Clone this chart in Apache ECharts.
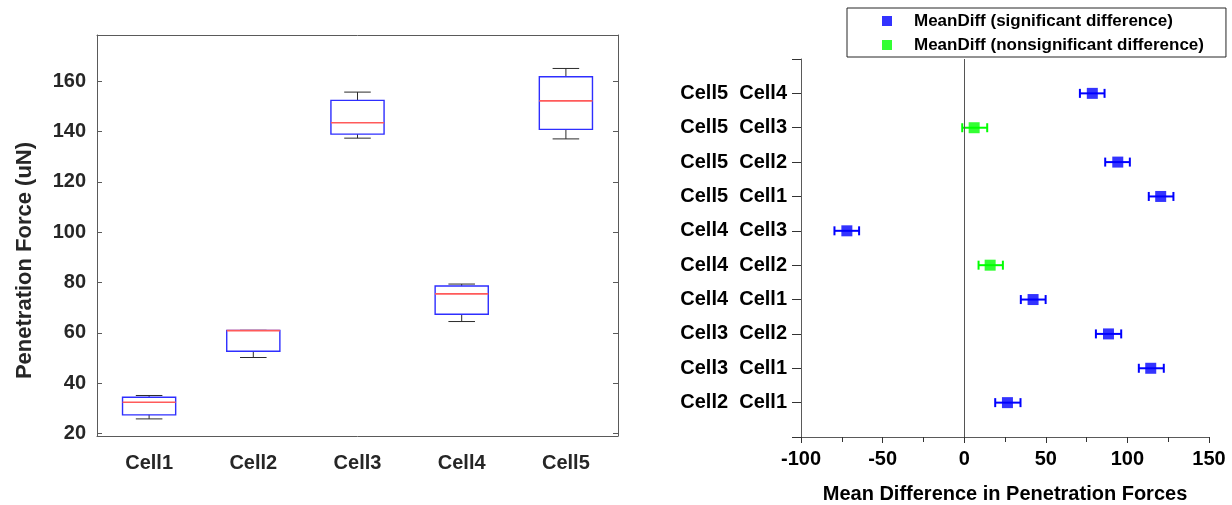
<!DOCTYPE html>
<html><head><meta charset="utf-8">
<script src="https://cdn.jsdelivr.net/npm/echarts@6/dist/echarts.min.js"></script>
<style>html,body{margin:0;padding:0;background:#fff}#c{width:1232px;height:505px}</style>
</head><body><div id="c"></div>
<script>
// ---- Left chart: box plots ----
const cellNames = ['Cell1', 'Cell2', 'Cell3', 'Cell4', 'Cell5'];
const boxMin    = [25.8, 50.2, 137.4, 64.5, 137.1];
const boxQ1     = [27.4, 52.7, 139.0, 67.4, 140.9];
const boxMedian = [32.4, 60.9, 143.5, 75.5, 152.2];
const boxQ3     = [34.4, 61.0, 152.4, 78.6, 161.8];
const boxMax    = [35.1, 61.0, 155.7, 79.4, 165.1];
const leftYTicks = [20, 40, 60, 80, 100, 120, 140, 160];
const leftYName = 'Penetration Force (uN)';

// ---- Right chart: multiple comparison ----
const pairLabels = ['Cell2  Cell1', 'Cell3  Cell1', 'Cell3  Cell2', 'Cell4  Cell1', 'Cell4  Cell2',
                    'Cell4  Cell3', 'Cell5  Cell1', 'Cell5  Cell2', 'Cell5  Cell3', 'Cell5  Cell4'];
const meanDiff    = [26.5, 114.3, 88.4, 42.2, 15.9, -71.9, 120.4, 94.1, 6.1, 78.5];
const ciLow       = [19.0, 107.0, 80.7, 34.7, 8.8, -79.5, 113.1, 86.4, -1.2, 70.9];
const ciHigh      = [34.5, 122.3, 96.2, 49.9, 23.7, -64.4, 128.2, 101.5, 14.1, 86.0];
const significant = [1, 1, 1, 1, 0, 1, 1, 1, 0, 1];
const legendNames = ['MeanDiff (significant difference)', 'MeanDiff (nonsignificant difference)'];
const rightXName = 'Mean Difference in Penetration Forces';

const FONT = "'Liberation Sans', Arial, Helvetica, sans-serif";
const AX = '#5a5a5a';
const BLUE = '#0000ff', GREEN = '#00ff00';

const boxData = cellNames.map((c, i) => [i, boxMin[i], boxQ1[i], boxMedian[i], boxQ3[i], boxMax[i]]);
const sigData = [], nonsigData = [];
meanDiff.forEach((v, i) => (significant[i] ? sigData : nonsigData).push([v, i + 1]));
const errData = meanDiff.map((v, i) => [ciLow[i], ciHigh[i], i + 1, significant[i]]);

const chart = echarts.init(document.getElementById('c'), null, {renderer: 'canvas'});
chart.setOption({
  animation: false,
  backgroundColor: '#fff',
  textStyle: {fontFamily: FONT},
  grid: [
    {left: 97, top: 35, width: 521, height: 401, outerBoundsMode: 'none'},
    {left: 801, top: 59, width: 408, height: 378, outerBoundsMode: 'none'}
  ],
  legend: {
    left: 847, top: 8, orient: 'vertical',
    data: legendNames,
    icon: 'rect', itemWidth: 10, itemHeight: 10, itemGap: 6,
    padding: [4, 22, 3, 35],
    borderColor: '#262626', borderWidth: 1, backgroundColor: '#fff',
    textStyle: {fontFamily: FONT, fontWeight: 'bold', fontSize: 17, color: '#000', lineHeight: 18, padding: [0, 0, 0, 17]},
    selectedMode: false
  },
  xAxis: [
    {gridIndex: 0, type: 'category', data: cellNames, position: 'bottom', boundaryGap: true,
     axisLine: {onZero: false, lineStyle: {color: AX}},
     axisTick: {inside: true, alignWithLabel: true, length: 5, lineStyle: {color: AX}},
     axisLabel: {margin: 17, fontFamily: FONT, fontWeight: 'bold', fontSize: 20, color: '#262626'},
     splitLine: {show: false}},
    {gridIndex: 0, type: 'category', data: cellNames, position: 'top', boundaryGap: true,
     axisLine: {onZero: false, lineStyle: {color: AX}},
     axisTick: {inside: true, alignWithLabel: true, length: 5, lineStyle: {color: AX}},
     axisLabel: {show: false}, splitLine: {show: false}},
    {gridIndex: 1, type: 'value', min: -100, max: 150, interval: 50, position: 'bottom',
     axisLine: {onZero: false, lineStyle: {color: AX}},
     axisTick: {inside: false, length: 6, lineStyle: {color: '#333'}},
     minorTick: {show: true, splitNumber: 2, length: 5, lineStyle: {color: '#333'}},
     axisLabel: {margin: 12, fontFamily: FONT, fontWeight: 'bold', fontSize: 20, color: '#000'},
     splitLine: {show: false},
     name: rightXName, nameLocation: 'middle', nameGap: 47,
     nameTextStyle: {fontFamily: FONT, fontWeight: 'bold', fontSize: 20, color: '#000'}}
  ],
  yAxis: [
    {gridIndex: 0, type: 'value', min: 19, max: 178.4, position: 'left',
     axisLine: {show: true, onZero: false, lineStyle: {color: AX}},
     axisTick: {show: true, inside: true, length: 5, customValues: leftYTicks, lineStyle: {color: AX}},
     axisLabel: {margin: 11, customValues: leftYTicks, fontFamily: FONT, fontWeight: 'bold', fontSize: 20, color: '#262626'},
     splitLine: {show: false},
     name: leftYName, nameLocation: 'middle', nameGap: 61,
     nameTextStyle: {fontFamily: FONT, fontWeight: 'bold', fontSize: 22, color: '#262626', padding: [0, 50, 0, 0]}},
    {gridIndex: 0, type: 'value', min: 19, max: 178.4, position: 'right',
     axisLine: {show: true, onZero: false, lineStyle: {color: AX}},
     axisTick: {show: true, inside: true, length: 5, customValues: leftYTicks, lineStyle: {color: AX}},
     axisLabel: {show: false}, splitLine: {show: false}},
    {gridIndex: 1, type: 'value', min: 0, max: pairLabels.length + 1, interval: 1, position: 'left',
     axisLine: {show: true, onZero: false, lineStyle: {color: AX}},
     axisTick: {show: true, inside: false, length: 9, lineStyle: {color: '#333'}},
     axisLabel: {margin: 14, fontFamily: FONT, fontWeight: 'bold', fontSize: 20, color: '#000',
                 formatter: v => (v >= 1 && v <= pairLabels.length) ? pairLabels[v - 1] : ''},
     splitLine: {show: false}}
  ],
  series: [
    {
      type: 'custom', name: 'box', xAxisIndex: 0, yAxisIndex: 0, data: boxData,
      encode: {x: 0, y: [1, 2, 3, 4, 5]},
      renderItem: function (params, api) {
        const i = api.value(0);
        const p = k => api.coord([i, api.value(k)]);
        const lo = p(1), q1 = p(2), md = p(3), q3 = p(4), hi = p(5);
        const bw = api.size([1, 0])[0] * 0.51;
        const cw = bw / 2;
        const x = lo[0];
        const wst = {stroke: '#2b2b2b', lineWidth: 1, fill: null};
        return {type: 'group', children: [
          {type: 'line', shape: {x1: x, y1: lo[1], x2: x, y2: q1[1]}, style: wst},
          {type: 'line', shape: {x1: x, y1: q3[1], x2: x, y2: hi[1]}, style: wst},
          {type: 'line', shape: {x1: x - cw / 2, y1: lo[1], x2: x + cw / 2, y2: lo[1]}, style: wst},
          {type: 'line', shape: {x1: x - cw / 2, y1: hi[1], x2: x + cw / 2, y2: hi[1]}, style: wst},
          {type: 'rect', shape: {x: x - bw / 2, y: q3[1], width: bw, height: q1[1] - q3[1]},
           style: {stroke: '#2e2eff', lineWidth: 1.4, fill: null}},
          {type: 'line', shape: {x1: x - bw / 2, y1: md[1], x2: x + bw / 2, y2: md[1]},
           style: {stroke: '#ff5a5a', lineWidth: 1.6}}
        ]};
      }
    },
    {
      type: 'custom', name: 'ci', xAxisIndex: 2, yAxisIndex: 2, data: errData,
      encode: {x: [0, 1], y: 2}, z: 2,
      renderItem: function (params, api) {
        const y = api.value(2);
        const a = api.coord([api.value(0), y]);
        const b = api.coord([api.value(1), y]);
        const st = {stroke: api.value(3) ? BLUE : GREEN, lineWidth: 2};
        const h = 4.5;
        return {type: 'group', children: [
          {type: 'line', shape: {x1: a[0], y1: a[1], x2: b[0], y2: b[1]}, style: st},
          {type: 'line', shape: {x1: a[0], y1: a[1] - h, x2: a[0], y2: a[1] + h}, style: st},
          {type: 'line', shape: {x1: b[0], y1: b[1] - h, x2: b[0], y2: b[1] + h}, style: st}
        ]};
      }
    },
    {
      type: 'scatter', name: legendNames[0], xAxisIndex: 2, yAxisIndex: 2, data: sigData,
      symbol: 'rect', symbolSize: 11, itemStyle: {color: BLUE}, z: 3,
      markLine: {silent: true, symbol: 'none', label: {show: false},
                 lineStyle: {color: '#555', width: 1, type: 'solid'}, data: [{xAxis: 0}]}
    },
    {
      type: 'scatter', name: legendNames[1], xAxisIndex: 2, yAxisIndex: 2, data: nonsigData,
      symbol: 'rect', symbolSize: 11, itemStyle: {color: GREEN}, z: 3
    }
  ]
});
</script></body></html>
